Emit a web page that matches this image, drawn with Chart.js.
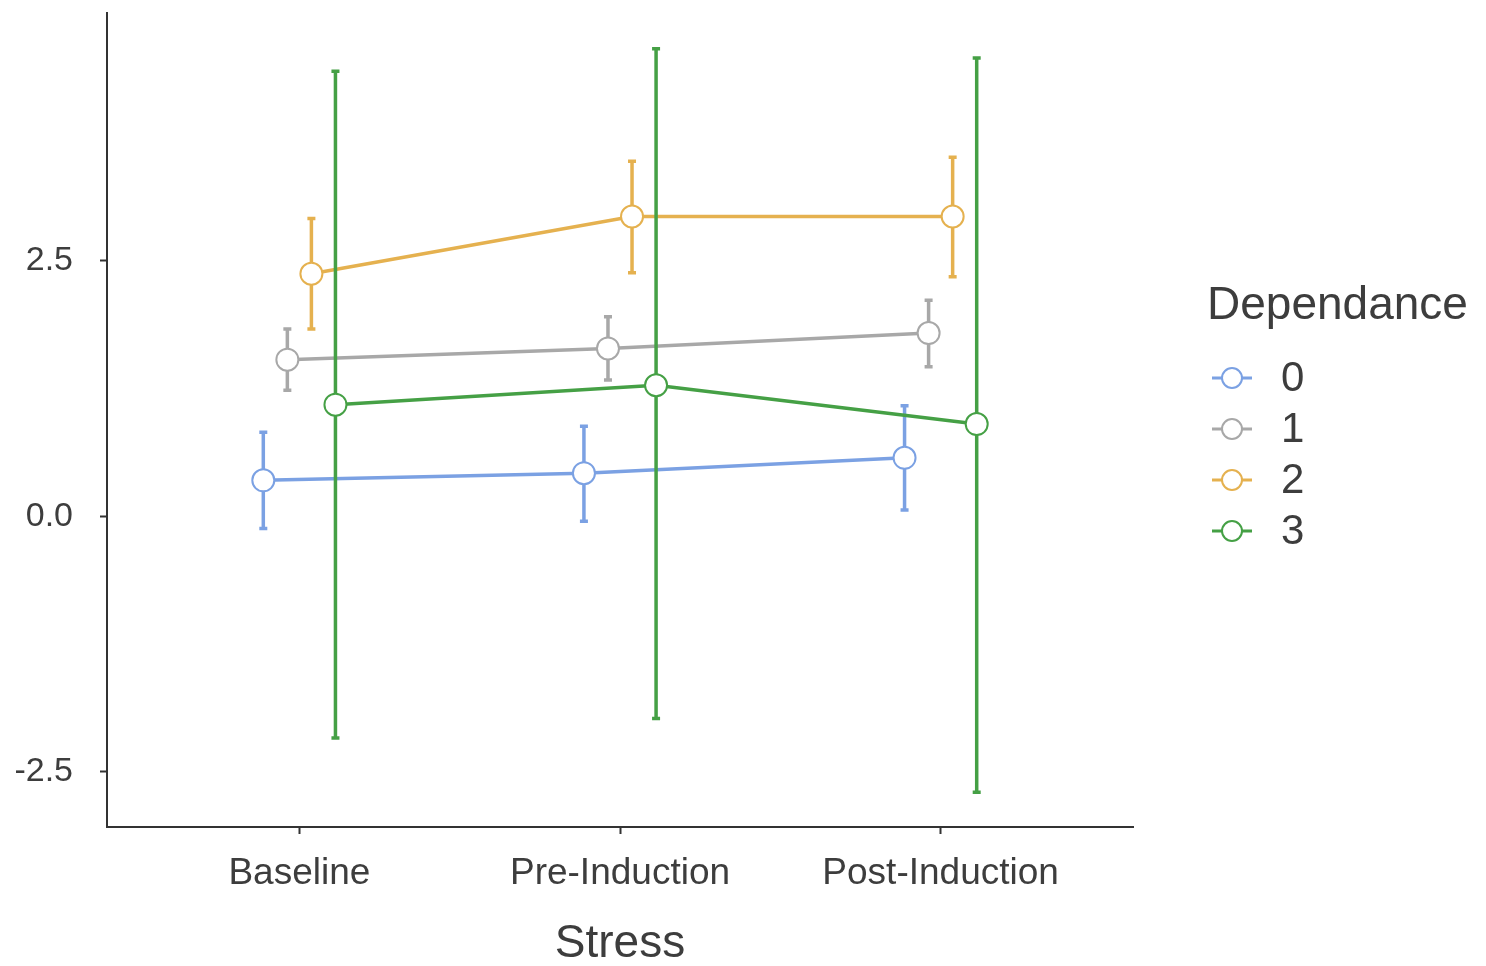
<!DOCTYPE html>
<html>
<head>
<meta charset="utf-8">
<script src="https://cdn.jsdelivr.net/npm/chart.js@4/dist/chart.umd.min.js"></script>
<style>
  html, body { margin: 0; padding: 0; background: #fff; }
  #wrap { width: 1486px; height: 966px; }
</style>
</head>
<body>
<div id="wrap"><canvas id="chart"></canvas></div>
<script>
const stressLevels = ['Baseline', 'Pre-Induction', 'Post-Induction'];
const groups = ['0', '1', '2', '3'];
const groupColors = ['#7ba1e3', '#a8a8a8', '#e5b14f', '#45a045'];
const dodge = [-0.1125, -0.0375, 0.0375, 0.1125];

// means per dependance group, one value per stress level
const means0 = [0.35, 0.42, 0.57];
const means1 = [1.53, 1.64, 1.79];
const means2 = [2.37, 2.93, 2.93];
const means3 = [1.09, 1.28, 0.90];

// confidence interval lows / highs
const low0 = [-0.12, -0.05, 0.06];
const high0 = [0.82, 0.88, 1.08];
const low1 = [1.23, 1.33, 1.46];
const high1 = [1.83, 1.95, 2.11];
const low2 = [1.83, 2.38, 2.34];
const high2 = [2.91, 3.47, 3.51];
const low3 = [-2.17, -1.98, -2.70];
const high3 = [4.35, 4.57, 4.48];

const yTicks = [-2.5, 0.0, 2.5];

const allMeans = [means0, means1, means2, means3];
const allLows = [low0, low1, low2, low3];
const allHighs = [high0, high1, high2, high3];

const FONT = '"Liberation Sans", Arial, sans-serif';
const TEXT = '#3d3d3d';

const datasets = groups.map((g, i) => ({
    label: g,
    data: allMeans[i].map((m, k) => ({x: k + dodge[i], y: m, lo: allLows[i][k], hi: allHighs[i][k]})),
    borderColor: groupColors[i],
    backgroundColor: '#ffffff',
    pointBackgroundColor: '#ffffff',
    pointBorderColor: groupColors[i],
    pointBorderWidth: 2,
    pointRadius: 11,
    borderWidth: 3.5,
    showLine: true,
    tension: 0,
    order: 4 - i
}));

const errorBars = {
    id: 'errorBars',
    beforeDatasetDraw(chart, args) {
        const ctx = chart.ctx;
        const xs = chart.scales.x, ys = chart.scales.y;
        const ds = chart.data.datasets[args.index];
        ctx.save();
        ctx.strokeStyle = ds.borderColor;
        ctx.lineWidth = 3.5;
        ds.data.forEach(p => {
            const px = xs.getPixelForValue(p.x);
            const top = ys.getPixelForValue(p.hi);
            const bot = ys.getPixelForValue(p.lo);
            ctx.beginPath();
            ctx.moveTo(px, top);
            ctx.lineTo(px, bot);
            ctx.moveTo(px - 4, top);
            ctx.lineTo(px + 4, top);
            ctx.moveTo(px - 4, bot);
            ctx.lineTo(px + 4, bot);
            ctx.stroke();
        });
        ctx.restore();
    }
};

const sideLegend = {
    id: 'sideLegend',
    afterDraw(chart) {
        const ctx = chart.ctx;
        ctx.save();
        ctx.fillStyle = TEXT;
        ctx.textBaseline = 'middle';
        ctx.textAlign = 'left';
        ctx.font = '46px ' + FONT;
        ctx.fillText('Dependance', 1207, 306);
        chart.data.datasets.forEach((ds, i) => {
            const y = 378 + i * 51;
            ctx.strokeStyle = ds.borderColor;
            ctx.lineWidth = 3;
            ctx.beginPath();
            ctx.moveTo(1212, y);
            ctx.lineTo(1252, y);
            ctx.stroke();
            ctx.beginPath();
            ctx.arc(1232, y, 10, 0, Math.PI * 2);
            ctx.fillStyle = '#ffffff';
            ctx.fill();
            ctx.lineWidth = 2;
            ctx.stroke();
            ctx.fillStyle = TEXT;
            ctx.font = '42px ' + FONT;
            ctx.fillText(ds.label, 1281, y + 1);
        });
        ctx.restore();
    }
};

new Chart(document.getElementById('chart'), {
    type: 'scatter',
    data: {datasets: datasets},
    plugins: [errorBars, sideLegend],
    options: {
        responsive: true,
        maintainAspectRatio: false,
        animation: false,
        layout: {padding: {top: 10, right: 353, left: 0, bottom: 0}},
        plugins: {
            legend: {display: false},
            tooltip: {enabled: false}
        },
        scales: {
            x: {
                type: 'linear',
                min: -0.6,
                max: 2.6,
                afterBuildTicks: s => { s.ticks = stressLevels.map((_, k) => ({value: k})); },
                afterFit: s => { s.height = 139; s.paddingLeft = 0; s.paddingRight = 0; },
                ticks: {
                    callback: v => stressLevels[v],
                    color: TEXT,
                    font: {family: FONT, size: 37},
                    padding: 18,
                    maxRotation: 0
                },
                grid: {drawOnChartArea: false, drawTicks: true, tickLength: 7, tickWidth: 2, color: '#333'},
                border: {display: true, color: '#333', width: 2},
                title: {
                    display: true,
                    text: 'Stress',
                    color: TEXT,
                    font: {family: FONT, size: 46},
                    padding: {top: 0, bottom: -6}
                }
            },
            y: {
                min: -3.04,
                max: 4.92,
                afterBuildTicks: s => { s.ticks = yTicks.map(v => ({value: v})); },
                afterFit: s => { s.width = 107; s.paddingTop = 0; s.paddingBottom = 0; },
                ticks: {
                    callback: v => v.toFixed(1),
                    color: TEXT,
                    font: {family: FONT, size: 34},
                    padding: 27
                },
                grid: {drawOnChartArea: false, drawTicks: true, tickLength: 7, tickWidth: 2, color: '#333'},
                border: {display: true, color: '#333', width: 2}
            }
        }
    }
});
</script>
</body>
</html>
